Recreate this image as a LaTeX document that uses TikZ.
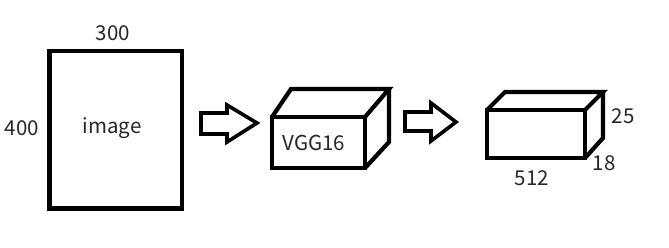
\documentclass[tikz,border=0pt]{standalone}
\usepackage{fontspec}
\setmainfont{Noto Sans CJK JP}
\begin{document}
\begin{tikzpicture}[x=1pt,y=-1pt,
  outline/.style={draw=black,line width=4.2pt,line join=miter},
  lbl/.style={inner sep=0pt,font=\fontsize{20.5}{22}\selectfont,text=black!85},
  fatarrow/.style={draw=black,line width=3.6pt,line join=miter,fill=white}]
\useasboundingbox[fill=white] (0,0) rectangle (669,247);

% input image
\draw[outline] (49.5,51) rectangle (182,208.5);
\node[lbl] (img) at (112,128) {image};
\node[lbl] (w) at (113,33) {300};
\node[lbl] (h) at (22,128) {400};

% first arrow
\draw[fatarrow] (201,113) -- (227,113) -- (227,105) -- (257,123) -- (227,142) -- (227,134) -- (201,134) -- cycle;

% VGG16 block
\coordinate (a1) at (272,117);
\coordinate (a2) at (365,117);
\coordinate (a3) at (365,168);
\coordinate (a4) at (272,168);
\coordinate (b1) at (291,89);
\coordinate (b2) at (389,89);
\coordinate (b3) at (389,142);
\draw[outline] (a1) rectangle (a3);
\draw[outline] (a1) -- (b1) -- (b2) -- (a2);
\draw[outline] (b2) -- (b3) -- (a3);
\node[lbl] (vgg) at (314,143) {VGG16};

% second arrow
\draw[fatarrow] (405,112) -- (431,112) -- (431,103) -- (456,122) -- (431,141) -- (431,131) -- (405,131) -- cycle;

% feature map block
\coordinate (c1) at (487,110);
\coordinate (c2) at (585,110);
\coordinate (c3) at (585,158);
\coordinate (c4) at (487,158);
\coordinate (d1) at (505,92);
\coordinate (d2) at (603,92);
\coordinate (d3) at (603,138);
\draw[outline] (c1) rectangle (c3);
\draw[outline] (c1) -- (d1) -- (d2) -- (c2);
\draw[outline] (d2) -- (d3) -- (c3);
\node[lbl] (depth) at (623,116) {25};
\node[lbl] (ch) at (604,163) {18};
\node[lbl] (len) at (532,178) {512};
\end{tikzpicture}
\end{document}
